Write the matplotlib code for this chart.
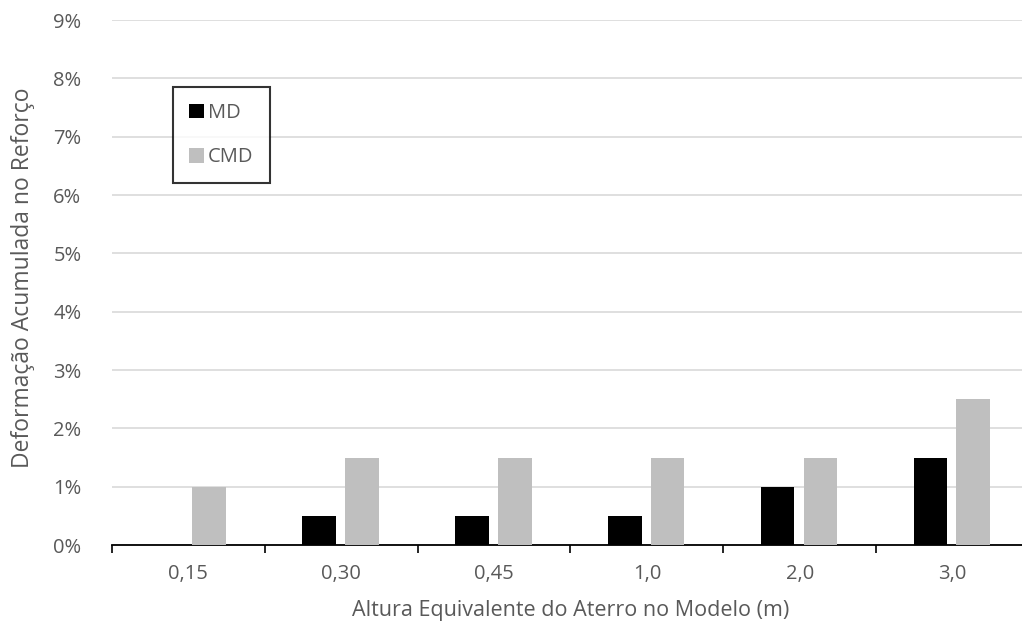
import numpy as np
import matplotlib.pyplot as plt
from matplotlib.ticker import FuncFormatter

plt.rcParams['font.family'] = ['Open Sans', 'DejaVu Sans']

categorias = ['0,15', '0,30', '0,45', '1,0', '2,0', '3,0']
md = [0.0, 0.5, 0.5, 0.5, 1.0, 1.5]
cmd = [1.0, 1.5, 1.5, 1.5, 1.5, 2.5]

texto = '#595959'

fig = plt.figure(figsize=(10.22, 6.3), dpi=100)
ax = fig.add_axes([0.1096, 0.1349, 0.8972, 0.8333])

x = np.arange(len(categorias))
largura = 0.22
ax.bar(x - 0.145, md, largura, color='black', label='MD', zorder=3)
ax.bar(x + 0.135, cmd, largura, color='#bfbfbf', label='CMD', zorder=3)

ax.set_xlim(-0.5, len(categorias) - 0.5)
ax.set_ylim(0, 9)
ax.set_yticks(np.arange(0, 10, 1))
ax.yaxis.set_major_formatter(FuncFormatter(lambda v, p: '%d%%' % v))
ax.grid(axis='y', color='#d9d9d9', linewidth=1.2, zorder=0)
ax.tick_params(axis='y', length=0, labelsize=14.5, labelcolor=texto, pad=22)

ax.set_xticks(np.arange(-0.5, len(categorias), 1))
ax.set_xticklabels([])
ax.set_xticks(x, minor=True)
ax.set_xticklabels(categorias, minor=True)
ax.tick_params(axis='x', which='major', length=6, width=1.2, color='black', direction='out')
ax.tick_params(axis='x', which='minor', length=0, labelsize=14.5, labelcolor=texto, pad=14)

for s in ['top', 'right', 'left']:
    ax.spines[s].set_visible(False)
ax.spines['bottom'].set_linewidth(1.3)

ax.set_xlabel('Altura Equivalente do Aterro no Modelo (m)', fontsize=15.5, color=texto)
ax.set_ylabel('Deformação Acumulada no Reforço', fontsize=16.5, color=texto)
ax.xaxis.set_label_coords(0.5, -0.105)
ax.yaxis.set_label_coords(-0.084, 0.51)

leg = ax.legend(loc='upper left', bbox_to_anchor=(173 / 1022, 1 - 87 / 630),
                bbox_transform=fig.transFigure, frameon=True, fancybox=False,
                edgecolor='black', fontsize=14.5, handlelength=0.75, handleheight=0.75,
                handletextpad=0.2, labelspacing=1.2, borderpad=0.8, borderaxespad=0)
leg.get_frame().set_linewidth(1.5)
for t in leg.get_texts():
    t.set_color(texto)

plt.savefig('out.png', dpi=100)
